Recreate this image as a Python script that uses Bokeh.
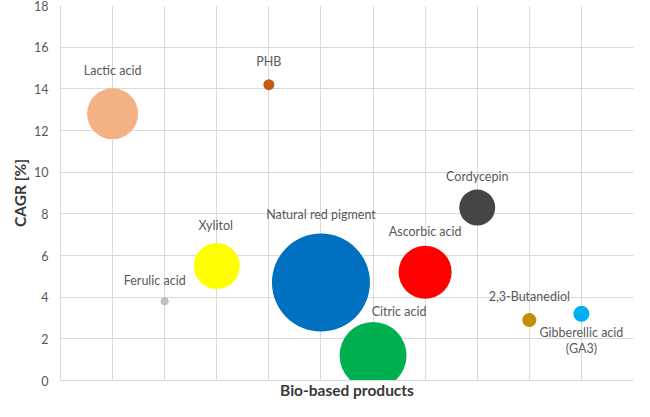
from bokeh.plotting import figure
from bokeh.models import ColumnDataSource, FixedTicker, Range1d
from bokeh.core.properties import value
from bokeh.embed import file_html
from bokeh.resources import INLINE

# ---- data ----
products = ["Lactic acid", "Ferulic acid", "Xylitol", "PHB", "Natural red pigment",
            "Citric acid", "Ascorbic acid", "Cordycepin", "2,3-Butanediol",
            "Gibberellic acid\n(GA3)"]
cagr = [12.8, 3.8, 5.5, 14.2, 4.7, 1.2, 5.2, 8.3, 2.9, 3.2]
bubble_size = [51, 8, 46, 11, 98, 67, 53, 36, 14, 16]
y_ticks = [0, 2, 4, 6, 8, 10, 12, 14, 16, 18]

# ---- style ----
colors = ["#F4B183", "#BFBFBF", "#FFFF00", "#C55A11", "#0070C0",
          "#00B050", "#FF0000", "#454545", "#BF9000", "#00B0F0"]
label_dx = [0, -10, -1, 0, 0, 26, 0, 0, 0, 0]
label_dy = [-43, -21, -40, -23, -68, -44, -41, -31, -24, 19]
line_gap = 16
grid_col = "#d9d9d9"
text_col = "#595959"

xs = list(range(1, len(products) + 1))

src = ColumnDataSource(dict(x=xs, y=cagr, size=bubble_size, color=colors))

lx, ly, lt, lxo, lyo = [], [], [], [], []
for i, name in enumerate(products):
    for j, line in enumerate(name.split("\n")):
        lx.append(xs[i]); ly.append(cagr[i]); lt.append(line)
        lxo.append(label_dx[i]); lyo.append(label_dy[i] + j * line_gap)
lsrc = ColumnDataSource(dict(x=lx, y=ly, text=lt, xo=lxo, yo=lyo))

p = figure(width=634, height=401, output_backend="svg", toolbar_location=None,
           x_range=Range1d(0, len(products) + 1), y_range=Range1d(0, 18),
           min_border_left=60, min_border_right=1, min_border_top=5,
           min_border_bottom=18, title=None)
p.outline_line_color = None
p.background_fill_color = "white"
p.border_fill_color = "white"

p.xgrid.ticker = FixedTicker(ticks=list(range(0, len(products) + 2)))
p.ygrid.ticker = FixedTicker(ticks=y_ticks)
p.grid.grid_line_color = grid_col
p.grid.grid_line_width = 1

p.xaxis.ticker = FixedTicker(ticks=[])
p.xaxis.axis_label = "Bio-based products"
p.yaxis.ticker = FixedTicker(ticks=y_ticks)
p.yaxis.axis_label = "CAGR [%]"
for ax in (p.xaxis, p.yaxis):
    ax.axis_line_color = grid_col
    ax.major_tick_line_color = None
    ax.minor_tick_line_color = None
    ax.major_tick_out = 0
    ax.major_tick_in = 0
    ax.minor_tick_out = 0
    ax.minor_tick_in = 0
    ax.axis_label_text_font = "Lato"
    ax.axis_label_text_font_style = "bold"
    ax.axis_label_text_font_size = "15.5px"
    ax.axis_label_text_color = "#383838"
    ax.major_label_text_font = "Lato"
    ax.major_label_text_font_size = "12.5px"
    ax.major_label_text_color = text_col
p.yaxis.major_label_standoff = 12
p.yaxis.axis_label_standoff = 2
p.xaxis.axis_label_standoff = 0

p.scatter(x="x", y="y", size="size", fill_color="color", line_color=None, source=src)
p.text(x="x", y="y", text="text", x_offset="xo", y_offset="yo", source=lsrc,
       text_align="center", text_baseline="middle",
       text_font=value("Lato"), text_font_size=value("12.5px"), text_color=text_col)

open("out.html", "w").write(file_html(p, INLINE))
